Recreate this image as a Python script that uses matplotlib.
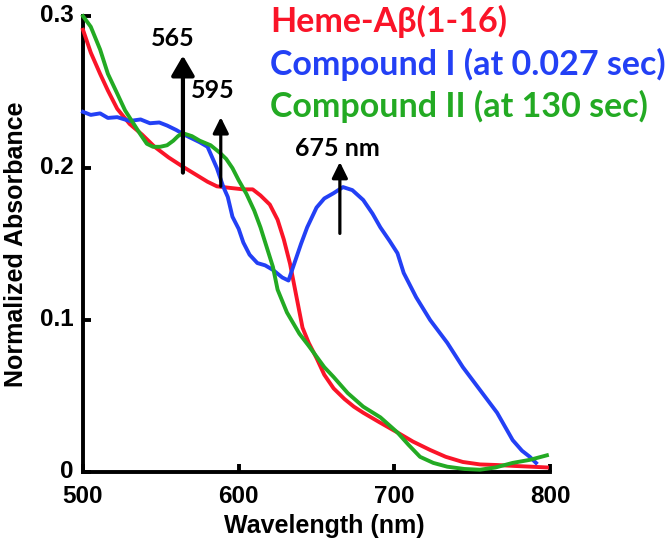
import matplotlib.pyplot as plt
import matplotlib.transforms as mtransforms

# Heme-Abeta(1-16)
heme_x = [500, 505, 511, 516, 522, 530, 538, 546, 555, 564, 572, 580, 586, 594, 603, 609, 614,
          620, 625, 629, 633, 637, 641, 645, 650, 655, 661, 668, 674, 680, 690, 702, 712, 723,
          733, 744, 755, 766, 777, 788, 798]
heme_y = [0.291, 0.276, 0.262, 0.251, 0.239, 0.229, 0.222, 0.214, 0.207, 0.201, 0.196, 0.191,
          0.188, 0.187, 0.186, 0.186, 0.182, 0.176, 0.166, 0.153, 0.137, 0.116, 0.095, 0.085,
          0.075, 0.064, 0.055, 0.048, 0.043, 0.039, 0.033, 0.026, 0.020, 0.0145, 0.010, 0.0066,
          0.005, 0.0046, 0.004, 0.0035, 0.003]

# Compound I (at 0.027 sec)
comp1_x = [500, 505, 511, 516, 522, 530, 537, 543, 549, 554, 560, 565, 569, 575, 580, 586, 590,
           593, 596, 600, 603, 607, 612, 617, 622, 628, 632, 635, 640, 644, 650, 655, 661, 667,
           673, 680, 686, 691, 697, 702, 706, 714, 723, 734, 744, 755, 766, 776, 782, 787, 791]
comp1_y = [0.237, 0.235, 0.236, 0.233, 0.2335, 0.231, 0.232, 0.2295, 0.230, 0.228, 0.225, 0.222,
           0.220, 0.217, 0.214, 0.200, 0.188, 0.181, 0.168, 0.160, 0.151, 0.143, 0.1375, 0.136,
           0.133, 0.128, 0.126, 0.135, 0.150, 0.161, 0.174, 0.180, 0.1835, 0.1875, 0.1855,
           0.179, 0.170, 0.161, 0.152, 0.144, 0.131, 0.115, 0.100, 0.085, 0.069, 0.054, 0.039,
           0.021, 0.014, 0.010, 0.006]

# Compound II (at 130 sec)
comp2_x = [500, 505, 511, 516, 522, 527, 532, 537, 541, 545, 549.5, 554, 558, 561, 564, 570, 575,
           582, 588, 592, 596, 600, 605, 610, 614, 618, 622, 625, 631, 639, 645, 650, 655, 661,
           670, 680, 691, 702, 709, 716.5, 725, 734, 745, 755, 765, 776, 787, 798]
comp2_y = [0.300, 0.293, 0.278, 0.262, 0.249, 0.238, 0.230, 0.222, 0.216, 0.214, 0.214, 0.215,
           0.218, 0.221, 0.223, 0.221, 0.218, 0.215, 0.210, 0.206, 0.200, 0.192, 0.183, 0.172,
           0.161, 0.148, 0.135, 0.120, 0.105, 0.091, 0.083, 0.076, 0.069, 0.0625, 0.052, 0.043,
           0.036, 0.026, 0.018, 0.010, 0.006, 0.0035, 0.002, 0.0015, 0.003, 0.006, 0.008, 0.011]

series = [
    ('Heme-A\u03b2(1-16)', heme_x, heme_y, '#fa1428'),
    ('Compound I (at 0.027 sec)', comp1_x, comp1_y, '#2340f5'),
    ('Compound II (at 130 sec)', comp2_x, comp2_y, '#23aa23'),
]

# arrows: (label, x, y_start, y_end, label_x, label_y)
arrows = [
    ('565', 564.2, 0.197, 0.274, 558, 0.2855),
    ('595', 588.5, 0.188, 0.2335, 583.5, 0.251),
    ('675 nm', 665, 0.157, 0.204, 663.5, 0.213),
]

xticks = [500, 600, 700, 800]
yticks = [0, 0.1, 0.2, 0.3]
ytick_labels = ['0', '0.1', '0.2', '0.3']

plt.rcParams['font.family'] = ['Liberation Sans', 'DejaVu Sans']

fig = plt.figure(figsize=(6.72, 5.46), dpi=100)
ax = fig.add_axes([0.1235, 0.1355, 0.695, 0.835])

for name, x, y, c in series:
    ax.plot(x, y, color=c, lw=2.8, clip_on=False, zorder=3)

for lab, x, y0, y1, lx, ly in arrows:
    if lab == '565':
        style, w = '-|>,head_length=1.2,head_width=0.7', 3.0
    else:
        style, w = '-|>,head_length=0.95,head_width=0.47', 2.3
    ax.annotate('', xy=(x, y1), xytext=(x, y0),
                arrowprops=dict(arrowstyle=style, color='black', lw=w, shrinkA=0, shrinkB=0),
                zorder=5)
    ax.text(lx, ly, lab, ha='center', va='center', fontsize=18, fontweight='bold',
            family=['Lato', 'DejaVu Sans'], zorder=6)

ax.set_xlim(500, 800)
ax.set_ylim(0, 0.3)
ax.set_xticks(xticks)
ax.set_yticks(yticks)
ax.set_yticklabels(ytick_labels)
for s in ['top', 'right']:
    ax.spines[s].set_visible(False)
for s in ['left', 'bottom']:
    ax.spines[s].set_linewidth(2.8)
ax.tick_params(direction='in', length=6, width=2.8, labelsize=17.5)
ax.tick_params(axis='x', pad=9)
ax.tick_params(axis='y', pad=7)
up = mtransforms.ScaledTranslation(0, 3 / 100, fig.dpi_scale_trans)
for t in ax.get_yticklabels():
    t.set_fontweight('bold')
    t.set_transform(t.get_transform() + up)
for t in ax.get_xticklabels():
    t.set_fontweight('bold')

ax.set_xlabel('Wavelength (nm)', fontsize=18, fontweight='bold', va='center')
ax.xaxis.set_label_coords(0.516, -0.118)
ax.set_ylabel('Normalized Absorbance', fontsize=18, fontweight='bold', labelpad=8)

for i, (name, x, y, c) in enumerate(series):
    fig.text(0.402, 0.941 - i * 0.0775, name, color=c, fontsize=24.5, fontweight='bold',
             family=['Lato', 'DejaVu Sans'], va='baseline', ha='left')

fig.savefig('out.png', dpi=100)
